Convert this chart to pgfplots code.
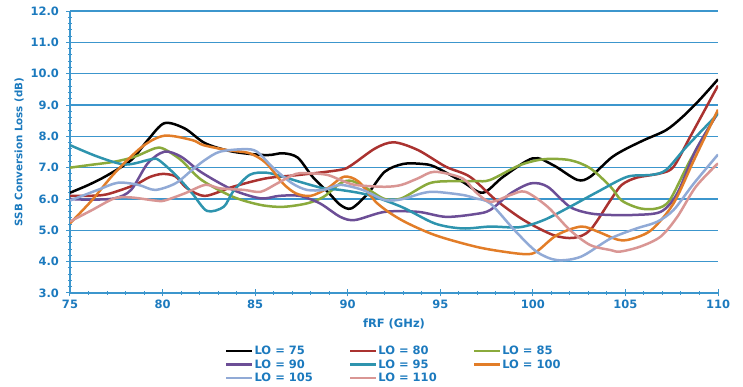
\documentclass[border=0pt]{standalone}
\usepackage{fontspec}
\setmainfont{DejaVu Sans}
\usepackage{pgfplots}
\pgfplotsset{compat=1.18}
\definecolor{txtblue}{RGB}{28,122,190}
\definecolor{gridblue}{RGB}{60,150,205}
\definecolor{c80}{RGB}{170,50,48}
\definecolor{c85}{RGB}{138,170,60}
\definecolor{c90}{RGB}{108,78,150}
\definecolor{c95}{RGB}{46,148,174}
\definecolor{c100}{RGB}{226,125,40}
\definecolor{c105}{RGB}{145,170,214}
\definecolor{c110}{RGB}{217,150,148}
\begin{document}
\begin{tikzpicture}
\begin{axis}[
 at={(0,0)}, anchor=south west,
 scale only axis, width=648pt, height=282pt,
 xmin=75, xmax=110, ymin=3, ymax=12,
 xtick={75,80,...,110}, minor x tick num=4,
 ytick={3,4,...,12}, minor y tick num=4,
 axis x line*=bottom, axis y line*=left,
 axis line style={gridblue, line width=1.2pt},
 ymajorgrids, grid style={gridblue, line width=1.2pt},
 tick style={gridblue, line width=1pt},
 major tick length=7pt, minor tick length=4pt,
 tick align=center,
 ticklabel style={font=\fontsize{11.5}{13}\selectfont\bfseries, text=txtblue},
 yticklabel style={xshift=-4pt, /pgf/number format/.cd, fixed, fixed zerofill, precision=1},
 /pgf/number format/assume math mode=true,
 xlabel={fRF (GHz)}, ylabel={SSB Conversion Loss (dB)},
 xlabel style={font=\fontsize{11.5}{13}\selectfont\bfseries, text=txtblue, yshift=-3pt},
 ylabel style={font=\fontsize{10.3}{12}\selectfont\bfseries, text=txtblue},
 legend columns=3,
 legend cell align=left,
 legend style={at={(0.239,-0.184)}, anchor=north west, draw=none, fill=none, inner sep=0pt,
   font=\fontsize{11.5}{13}\selectfont\bfseries, text=txtblue,
   nodes={inner sep=1pt}, row sep=1.4pt,
   /tikz/every even column/.append style={column sep=35pt}},
 legend image code/.code={\draw[#1, line width=2.5pt] (0pt,0pt) -- (26pt,0pt);},
 every axis plot/.append style={smooth, tension=0.5, line width=2.5pt, no markers},
]
\addplot[black] coordinates {(75,6.2)(76,6.45)(77,6.75)(78.3,7.24)(79.2,7.88)(80.1,8.42)(81.2,8.25)(82.3,7.78)(83.8,7.51)(85.6,7.40)(86.5,7.46)(87.3,7.32)(88.1,6.71)(89,6.18)(89.6,5.81)(90.2,5.70)(91.1,6.18)(92,6.87)(93,7.12)(94,7.12)(94.7,7.03)(96.2,6.55)(97.3,6.20)(98.4,6.71)(100,7.30)(101.1,7.08)(102.4,6.61)(103.1,6.71)(104.2,7.30)(104.9,7.56)(106,7.88)(107.2,8.2)(108.1,8.63)(109,9.16)(110,9.82)};
\addlegendentry{LO = 75}
\addplot[c80] coordinates {(75,6.1)(76,6.1)(77,6.15)(78.5,6.45)(79.3,6.7)(80,6.8)(80.7,6.72)(81.3,6.35)(82.3,6.1)(83.8,6.39)(85.6,6.66)(87.4,6.77)(89.6,6.93)(90.2,7.08)(91.5,7.62)(92.5,7.81)(93.8,7.56)(95.3,7.03)(96.6,6.71)(98,5.97)(99.5,5.33)(101.1,4.85)(102.2,4.76)(103.1,5.01)(104.2,5.97)(104.8,6.45)(105.6,6.68)(106.9,6.82)(107.6,7.03)(108.5,7.99)(110,9.62)};
\addlegendentry{LO = 80}
\addplot[c85] coordinates {(75,7.0)(76,7.08)(77.4,7.19)(78.5,7.35)(79.6,7.62)(80.1,7.59)(81,7.24)(82.1,6.61)(83.8,6.07)(85.3,5.81)(86.5,5.75)(87.8,5.86)(88.7,6.07)(89.6,6.5)(90.2,6.58)(91,6.35)(92,6.0)(92.9,6.02)(94.4,6.5)(95.6,6.57)(96.9,6.57)(97.7,6.61)(99.3,7.08)(100.6,7.27)(102,7.24)(103.1,6.98)(104.2,6.39)(104.8,5.95)(105.8,5.70)(106.7,5.70)(107.4,5.97)(108.5,7.24)(110,8.78)};
\addlegendentry{LO = 85}
\addplot[c90] coordinates {(75,6.0)(76,5.98)(77.4,6.02)(78.3,6.29)(79.2,7.14)(80.1,7.51)(81,7.35)(82.1,6.85)(83.8,6.29)(85.3,6.02)(86.3,6.10)(87.4,6.10)(88.5,5.86)(89.6,5.43)(90.4,5.33)(92,5.59)(93.8,5.59)(95.3,5.43)(96.9,5.52)(97.7,5.65)(98.8,6.18)(99.9,6.5)(100.8,6.39)(102,5.75)(103.1,5.54)(104.2,5.49)(105.4,5.49)(106.9,5.59)(107.8,6.18)(108.8,7.56)(110,8.75)};
\addlegendentry{LO = 90}
\addplot[c95] coordinates {(75,7.72)(76.5,7.35)(78,7.1)(79.4,7.27)(79.8,7.24)(80.7,6.77)(81.6,6.18)(82.4,5.62)(83.3,5.75)(83.8,6.23)(84.7,6.77)(85.6,6.84)(86.5,6.71)(87.4,6.55)(88.7,6.34)(89.6,6.29)(91.1,6.13)(92.9,5.75)(94.7,5.22)(96.2,5.06)(97.7,5.12)(99.3,5.10)(100.6,5.33)(102,5.75)(103.5,6.23)(105.1,6.71)(106.4,6.77)(107.2,6.93)(108.3,7.67)(110,8.72)};
\addlegendentry{LO = 95}
\addplot[c100] coordinates {(75,5.22)(76.2,5.97)(77.4,6.82)(78.9,7.67)(80.1,8.02)(81.6,7.88)(82.2,7.72)(83.5,7.56)(84.7,7.46)(85.6,7.14)(86.5,6.5)(87.2,6.18)(88,6.10)(88.9,6.34)(89.8,6.71)(90.6,6.55)(91.6,5.86)(92.9,5.33)(94.7,4.85)(96.9,4.48)(98.4,4.32)(99.6,4.24)(100.2,4.32)(101.3,4.85)(102.6,5.12)(103.5,4.96)(104.6,4.70)(105.3,4.72)(106.4,5.01)(107.6,5.86)(108.7,7.24)(110,8.85)};
\addlegendentry{LO = 100}
\addplot[c105] coordinates {(75,5.95)(76.5,6.29)(77.6,6.52)(78.7,6.45)(79.6,6.29)(80.7,6.50)(81.6,6.93)(82.3,7.25)(83.1,7.51)(84.4,7.59)(85.1,7.51)(86,6.98)(87,6.5)(87.8,6.29)(88.7,6.29)(89.6,6.45)(90.8,6.29)(92,5.97)(92.9,5.99)(94,6.18)(94.7,6.23)(96.2,6.13)(96.9,6.02)(97.7,5.86)(99,5.01)(100.2,4.32)(101.3,4.05)(102.6,4.16)(104.2,4.74)(105.6,5.06)(106.7,5.27)(107.6,5.65)(108.7,6.5)(110,7.42)};
\addlegendentry{LO = 105}
\addplot[c110] coordinates {(75,5.28)(76.2,5.65)(77.4,6.02)(78.3,6.05)(79.6,5.95)(80.1,5.95)(81.2,6.18)(82.3,6.45)(83.1,6.34)(84.4,6.29)(85.3,6.23)(86.2,6.5)(87.2,6.8)(88,6.82)(88.9,6.77)(89.6,6.61)(90.4,6.45)(92,6.39)(92.9,6.45)(93.8,6.66)(94.7,6.87)(96.2,6.66)(96.9,6.23)(97.7,5.91)(98.8,6.13)(99.6,6.23)(100.8,5.75)(102,5.01)(103.1,4.53)(104.2,4.37)(104.7,4.32)(105.8,4.48)(106.9,4.80)(107.8,5.43)(108.8,6.39)(110,7.14)};
\addlegendentry{LO = 110}
\end{axis}
\pgfresetboundingbox
\path (-70pt,-94pt) rectangle (673pt,293pt);
\end{tikzpicture}
\end{document}
